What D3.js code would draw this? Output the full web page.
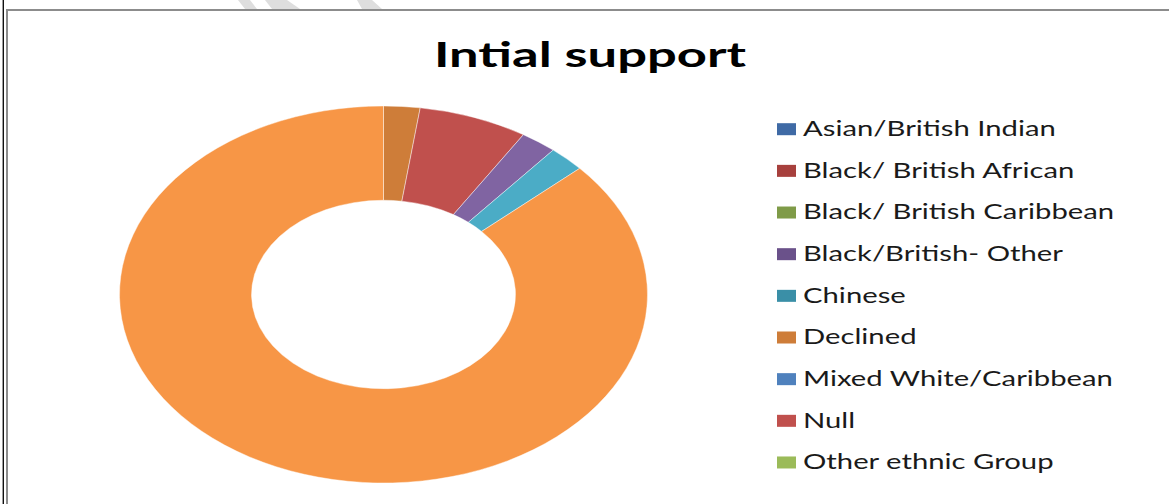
<!DOCTYPE html>
<html>
<head>
<meta charset="utf-8">
<script src="https://cdn.jsdelivr.net/npm/d3@7"></script>
<style>
  html, body { margin: 0; padding: 0; background: #fff; overflow: hidden; }
  svg { display: block; }
</style>
</head>
<body>
<svg id="chart" width="1169" height="504"></svg>
<script>
// Ethnicity breakdown for initial support (counts per group)
const categories = [
  "Asian/British Indian",
  "Black/ British African",
  "Black/ British Caribbean",
  "Black/British- Other",
  "Chinese",
  "Declined",
  "Mixed White/Caribbean",
  "Null",
  "Other ethnic Group",
  "White Irish",
  "White Other",
  "White/British"
];
const values = [0, 0, 0, 0, 0, 1, 0, 3, 0, 1, 1, 39];
const palette = [
  "#3F6AA5", "#A7403D", "#7F9B48", "#6A518A", "#3A8FA7", "#CE7D39",
  "#4F81BD", "#C0504D", "#9BBB59", "#8064A2", "#4BACC6", "#F79646"
];
const title = "Intial support";

const svg = d3.select("#chart");
const W = 1169, H = 504;

// page watermark strokes peeking above the chart frame
const wm = svg.append("g").attr("fill", "#dedede");
[[238, 250, 257, 245], [265, 287, 300, 272], [357, 372, 382, 362]].forEach(s => {
  wm.append("polygon").attr("points", `${s[0]},0 ${s[1]},0 ${s[2]},9 ${s[3]},9`);
});

// frame lines
svg.append("line").attr("x1", 3.3).attr("x2", 3.3).attr("y1", 0).attr("y2", H)
  .attr("stroke", "#111").attr("stroke-width", 1.4);
svg.append("line").attr("x1", 7).attr("x2", 7).attr("y1", 9).attr("y2", H)
  .attr("stroke", "#8c8c8c").attr("stroke-width", 2);
svg.append("line").attr("x1", 6).attr("x2", W).attr("y1", 10).attr("y2", 10)
  .attr("stroke", "#8c8c8c").attr("stroke-width", 2);

// title
svg.append("text")
  .attr("transform", "translate(590,67) scale(1.5,1)")
  .attr("text-anchor", "middle")
  .attr("font-family", "Lato, 'Open Sans', sans-serif")
  .attr("font-weight", "bold")
  .attr("font-size", 35)
  .attr("fill", "#000")
  .text(title);

// donut (elliptical, as the plot area is stretched horizontally)
const cx = 383.5, cy = 294.5, rx = 264, ry = 188.5;
const pie = d3.pie().sort(null).value(d => d.value);
const arcs = pie(categories.map((c, i) => ({ name: c, value: values[i], color: palette[i] })));
const arc = d3.arc().innerRadius(ry * 0.5).outerRadius(ry);

const g = svg.append("g").attr("transform", `translate(${cx},${cy}) scale(${rx / ry},1)`);
g.selectAll("path")
  .data(arcs.filter(a => a.data.value > 0))
  .join("path")
  .attr("d", arc)
  .attr("fill", d => d.data.color)
  .attr("stroke", "rgba(255,255,255,0.55)")
  .attr("stroke-width", 0.8)
  .attr("vector-effect", "non-scaling-stroke");

// legend: only as many rows as fit inside the chart area
const rowGap = 41.66, firstBaseline = 136;
const legendY = d3.scaleLinear().domain([0, 1]).range([firstBaseline, firstBaseline + rowGap]);
const shown = categories.filter((c, i) => legendY(i) + 4 < H);
const lg = svg.append("g");
const items = lg.selectAll("g.item")
  .data(shown)
  .join("g")
  .attr("class", "item")
  .attr("transform", (d, i) => `translate(0,${legendY(i)})`);
items.append("rect")
  .attr("x", 777).attr("y", -12.8)
  .attr("width", 19).attr("height", 12)
  .attr("fill", (d, i) => palette[i]);
items.append("text")
  .attr("transform", "translate(803,0) scale(1.33,1)")
  .attr("font-family", "Lato, 'Open Sans', sans-serif")
  .attr("font-size", 22)
  .attr("fill", "#1a1a1a")
  .text(d => d);
</script>
</body>
</html>
